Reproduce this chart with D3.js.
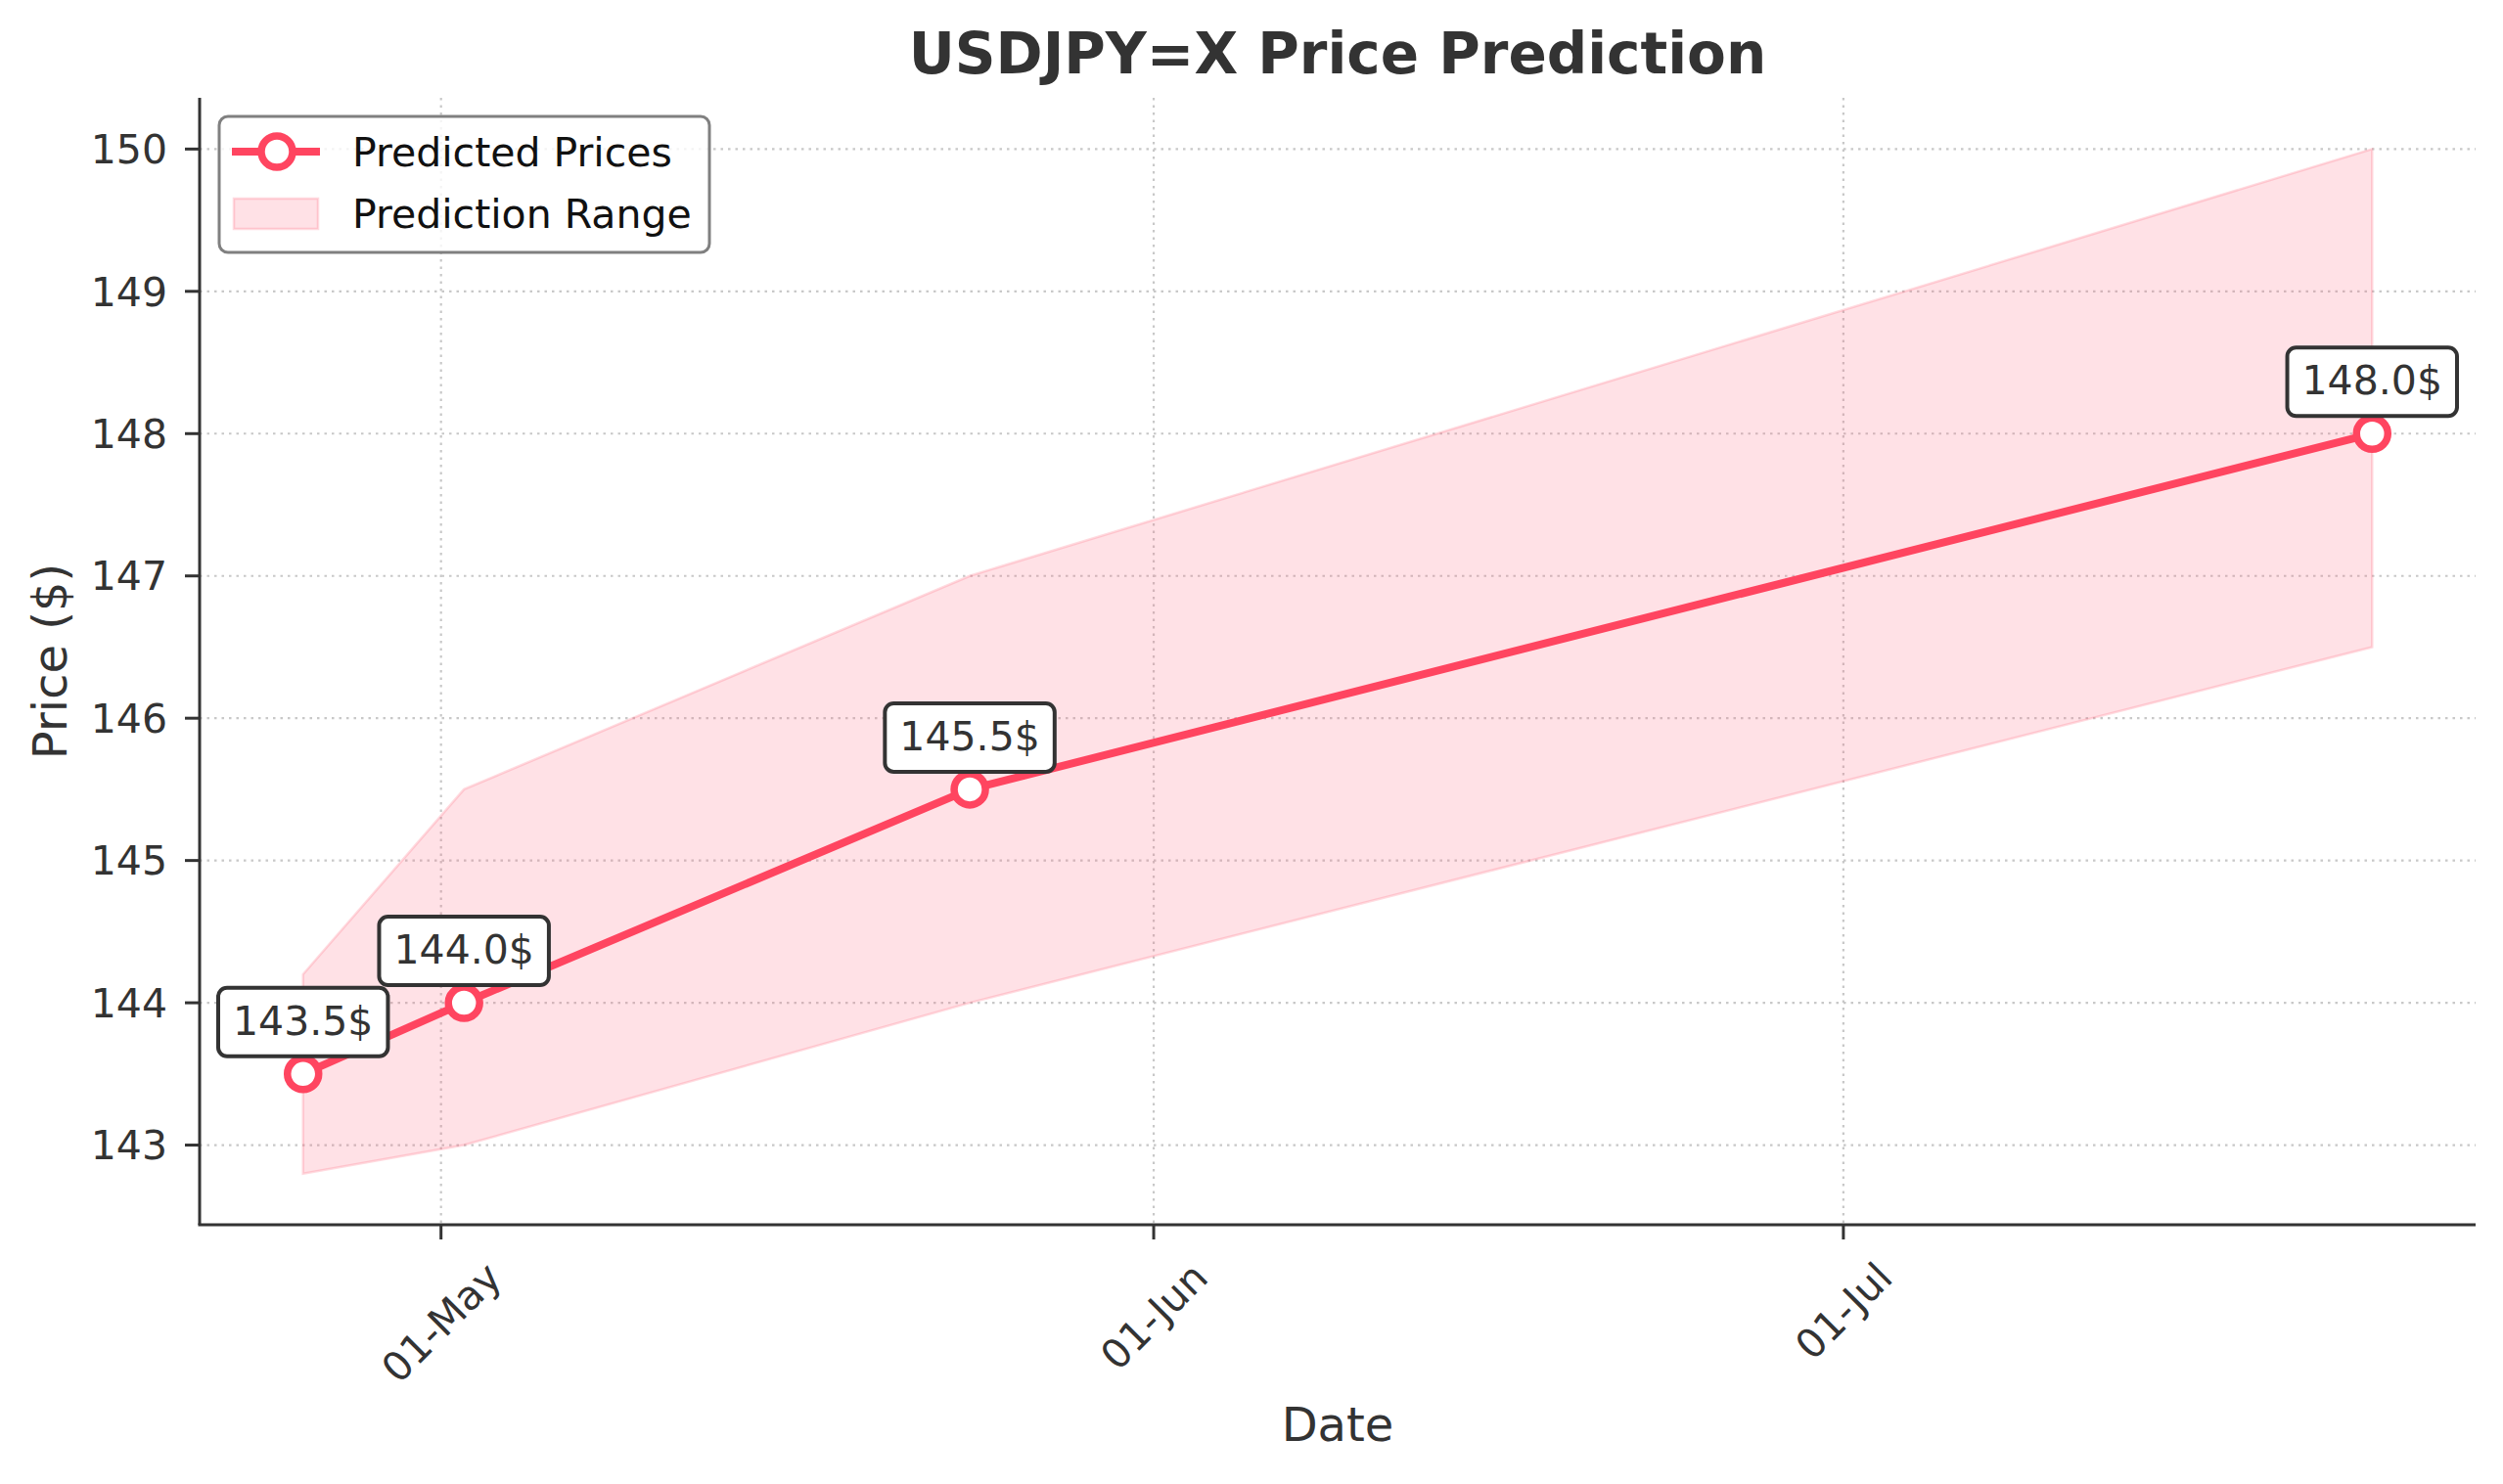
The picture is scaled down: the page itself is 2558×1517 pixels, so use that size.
<!DOCTYPE html>
<html>
<head>
<meta charset="utf-8">
<script src="https://cdn.jsdelivr.net/npm/d3@7/dist/d3.min.js"></script>
<style>
html,body{margin:0;padding:0;background:#fff;}
svg{display:block;font-family:"DejaVu Sans",sans-serif;}
</style>
</head>
<body>
<svg id="chart" width="2558" height="1517"></svg>
<script>
const dates = ["2025-04-25", "2025-05-02", "2025-05-24", "2025-07-24"];
const predicted = [143.5, 144.0, 145.5, 148.0];
const upper = [144.2, 145.5, 147.0, 150.0];
const lower = [142.8, 143.0, 144.0, 146.5];
const yTicks = [143, 144, 145, 146, 147, 148, 149, 150];
const xTickDates = ["2025-05-01", "2025-06-01", "2025-07-01"];
const labels = predicted.map(v => v.toFixed(1) + "$");

const parse = d3.utcParse("%Y-%m-%d");
const data = dates.map((d, i) => ({date: parse(d), p: predicted[i], hi: upper[i], lo: lower[i], label: labels[i]}));

const W = 2558, H = 1517;
const m = {left: 204, right: 2530, top: 100, bottom: 1252};
const lineColor = "#ff4560";
const textColor = "#333333";

const svg = d3.select("#chart");

// domains with 5% margins
const xExt = d3.extent(data, d => d.date);
const xSpan = xExt[1] - xExt[0];
const x = d3.scaleUtc()
  .domain([new Date(+xExt[0] - xSpan * 0.05), new Date(+xExt[1] + xSpan * 0.05)])
  .range([m.left, m.right]);
const yMin = d3.min(lower), yMax = d3.max(upper);
const ySpan = yMax - yMin;
const y = d3.scaleLinear()
  .domain([yMin - ySpan * 0.05, yMax + ySpan * 0.05])
  .range([m.bottom, m.top]);

const xTicks = xTickDates.map(parse);

// grid
const grid = svg.append("g");
grid.selectAll("line.gy").data(yTicks).enter().append("line")
  .attr("x1", m.left).attr("x2", m.right)
  .attr("y1", d => y(d)).attr("y2", d => y(d))
  .attr("stroke", "#c8c8c8").attr("stroke-width", 2.2).attr("stroke-dasharray", "2.5,5");
grid.selectAll("line.gx").data(xTicks).enter().append("line")
  .attr("x1", d => x(d)).attr("x2", d => x(d))
  .attr("y1", m.top).attr("y2", m.bottom)
  .attr("stroke", "#c8c8c8").attr("stroke-width", 2.2).attr("stroke-dasharray", "2.5,5");

// range area
const area = d3.area().x(d => x(d.date)).y0(d => y(d.lo)).y1(d => y(d.hi));
svg.append("path").datum(data).attr("d", area)
  .attr("fill", "rgba(255,107,129,0.2)")
  .attr("stroke", "rgba(255,107,129,0.25)").attr("stroke-width", 2.5);

// line
const line = d3.line().x(d => x(d.date)).y(d => y(d.p));
svg.append("path").datum(data).attr("d", line)
  .attr("fill", "none").attr("stroke", lineColor).attr("stroke-width", 8)
  .attr("stroke-linejoin", "round");

svg.selectAll("circle.pt").data(data).enter().append("circle")
  .attr("cx", d => x(d.date)).attr("cy", d => y(d.p)).attr("r", 16)
  .attr("fill", "#fff").attr("stroke", lineColor).attr("stroke-width", 7.5);

// annotations
const ann = svg.selectAll("g.ann").data(data).enter().append("g")
  .attr("transform", d => `translate(${x(d.date)},${y(d.p)})`);
ann.each(function(d) {
  const g = d3.select(this);
  const t = g.append("text").text(d.label)
    .attr("x", 0).attr("y", -40).attr("text-anchor", "middle")
    .attr("font-size", 41).attr("fill", textColor);
  const w = t.node().getComputedTextLength();
  g.insert("rect", "text")
    .attr("x", -w / 2 - 15).attr("y", -88).attr("width", w + 30).attr("height", 70)
    .attr("rx", 9).attr("ry", 9)
    .attr("fill", "#fff").attr("stroke", textColor).attr("stroke-width", 4);
});

// axes spines
svg.append("line").attr("x1", m.left).attr("x2", m.left).attr("y1", m.top).attr("y2", m.bottom)
  .attr("stroke", textColor).attr("stroke-width", 3);
svg.append("line").attr("x1", m.left - 1.5).attr("x2", m.right).attr("y1", m.bottom).attr("y2", m.bottom)
  .attr("stroke", textColor).attr("stroke-width", 3);

// y ticks
const yt = svg.append("g");
yTicks.forEach(v => {
  yt.append("line").attr("x1", m.left - 15).attr("x2", m.left).attr("y1", y(v)).attr("y2", y(v))
    .attr("stroke", textColor).attr("stroke-width", 3);
  yt.append("text").text(d3.format("d")(v))
    .attr("x", m.left - 33).attr("y", y(v)).attr("dy", "0.36em")
    .attr("text-anchor", "end").attr("font-size", 41).attr("fill", textColor);
});

// x ticks
const xfmt = d3.utcFormat("%d-%b");
xTicks.forEach(dt => {
  const px = x(dt);
  svg.append("line").attr("x1", px).attr("x2", px).attr("y1", m.bottom).attr("y2", m.bottom + 15)
    .attr("stroke", textColor).attr("stroke-width", 3);
  const t = svg.append("text").text(xfmt(dt))
    .attr("text-anchor", "middle").attr("font-size", 41).attr("fill", textColor)
    .attr("dy", "0.36em");
  const w = t.node().getComputedTextLength();
  const ext = (w + 41 * 1.1) * Math.SQRT1_2;
  const cy = m.bottom + 30 + ext / 2;
  t.attr("transform", `translate(${px},${cy}) rotate(-45)`);
});

// axis labels
svg.append("text").text("Date")
  .attr("x", (m.left + m.right) / 2).attr("y", 1473)
  .attr("text-anchor", "middle").attr("font-size", 48).attr("fill", textColor);
svg.append("text").text("Price ($)")
  .attr("transform", `translate(68,${(m.top + m.bottom) / 2}) rotate(-90)`)
  .attr("text-anchor", "middle").attr("font-size", 48).attr("fill", textColor);

// title
svg.append("text").text("USDJPY=X Price Prediction")
  .attr("x", (m.left + m.right) / 2).attr("y", 75)
  .attr("text-anchor", "middle").attr("font-size", 58).attr("font-weight", "bold")
  .attr("fill", textColor);

// legend
const lg = svg.append("g");
lg.append("rect").attr("x", 224).attr("y", 119).attr("width", 501).attr("height", 139)
  .attr("rx", 9).attr("ry", 9).attr("fill", "rgba(255,255,255,0.8)")
  .attr("stroke", "#808080").attr("stroke-width", 3);
lg.append("line").attr("x1", 237).attr("x2", 327).attr("y1", 155).attr("y2", 155)
  .attr("stroke", lineColor).attr("stroke-width", 8);
lg.append("circle").attr("cx", 283).attr("cy", 155).attr("r", 16)
  .attr("fill", "#fff").attr("stroke", lineColor).attr("stroke-width", 7.5);
lg.append("rect").attr("x", 239).attr("y", 203).attr("width", 86).attr("height", 31)
  .attr("fill", "rgba(255,107,129,0.2)").attr("stroke", "rgba(255,107,129,0.25)").attr("stroke-width", 2.5);
lg.append("text").text("Predicted Prices").attr("x", 360).attr("y", 155).attr("dy", "0.36em")
  .attr("font-size", 41).attr("fill", "#111");
lg.append("text").text("Prediction Range").attr("x", 360).attr("y", 218).attr("dy", "0.36em")
  .attr("font-size", 41).attr("fill", "#111");
</script>
</body>
</html>
